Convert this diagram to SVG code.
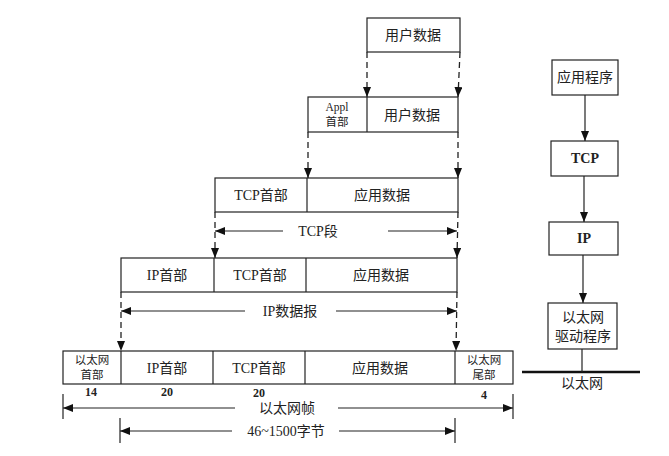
<svg xmlns="http://www.w3.org/2000/svg" width="669" height="456" viewBox="0 0 669 456">
<defs>
<marker id="ah" viewBox="0 0 10 8" refX="10" refY="4" markerWidth="10" markerHeight="8" markerUnits="userSpaceOnUse" orient="auto">
<path d="M0,0 L10,4 L0,8 Z" fill="#111"/>
</marker>
<style>
.b{fill:#fff;stroke:#222;stroke-width:1.2}
.d{stroke:#222;stroke-width:1.3;stroke-dasharray:6,4;fill:none}
.l{stroke:#222;stroke-width:1.2;fill:none}
.t{font-family:"Liberation Serif","Noto Sans CJK SC",serif;font-size:14px;fill:#222;text-anchor:middle}
.s{font-family:"Liberation Serif","Noto Sans CJK SC",serif;font-size:11.5px;fill:#222;text-anchor:middle}
.n{font-family:"Liberation Serif",serif;font-size:12px;font-weight:bold;fill:#222;text-anchor:middle}
.bt{font-family:"Liberation Serif",serif;font-size:14px;font-weight:bold;fill:#222;text-anchor:middle}
</style>
</defs>
<rect width="669" height="456" fill="#fff"/>

<g id="row1">
<rect class="b" x="367" y="18" width="93" height="34"/>
<text class="t" x="413" y="40">用户数据</text>
</g>

<g id="row2">
<rect class="b" x="308" y="97" width="150" height="35"/>
<line class="l" x1="367" y1="97" x2="367" y2="132"/>
<text class="s" x="337" y="111">Appl</text>
<text class="s" x="337" y="126">首部</text>
<text class="t" x="412" y="120">用户数据</text>
</g>

<g id="row3">
<rect class="b" x="215" y="178" width="243" height="34"/>
<line class="l" x1="307" y1="178" x2="307" y2="212"/>
<text class="t" x="261" y="200">TCP首部</text>
<text class="t" x="382" y="200">应用数据</text>
</g>

<g id="row4">
<rect class="b" x="121" y="258" width="336" height="34"/>
<line class="l" x1="214" y1="258" x2="214" y2="292"/>
<line class="l" x1="306" y1="258" x2="306" y2="292"/>
<text class="t" x="167" y="280">IP首部</text>
<text class="t" x="260" y="280">TCP首部</text>
<text class="t" x="381" y="280">应用数据</text>
</g>

<g id="row5">
<rect class="b" x="63" y="351" width="450" height="33"/>
<line class="l" x1="121" y1="351" x2="121" y2="384"/>
<line class="l" x1="213" y1="351" x2="213" y2="384"/>
<line class="l" x1="305" y1="351" x2="305" y2="384"/>
<line class="l" x1="455" y1="351" x2="455" y2="384"/>
<text class="s" x="92" y="364">以太网</text>
<text class="s" x="92" y="379">首部</text>
<text class="t" x="167" y="373">IP首部</text>
<text class="t" x="259" y="373">TCP首部</text>
<text class="t" x="380" y="373">应用数据</text>
<text class="s" x="484" y="364">以太网</text>
<text class="s" x="484" y="379">尾部</text>
<text class="n" x="91" y="396">14</text>
<text class="n" x="167" y="396">20</text>
<text class="n" x="259" y="397">20</text>
<text class="n" x="484" y="399">4</text>
</g>

<g id="app">
<rect class="b" x="552" y="60" width="66" height="35"/>
<text class="t" x="585" y="82">应用程序</text>
</g>
<g id="tcp">
<rect class="b" x="551" y="141" width="67" height="35"/>
<text class="bt" x="585" y="163">TCP</text>
</g>
<g id="ip">
<rect class="b" x="549" y="222" width="69" height="33"/>
<text class="bt" x="584" y="243">IP</text>
</g>
<g id="driver">
<rect class="b" x="548" y="303" width="69" height="46"/>
<text class="t" x="583" y="322">以太网</text>
<text class="t" x="583" y="341">驱动程序</text>
</g>
<g id="ethernet">
<line x1="522" y1="372" x2="640" y2="372" stroke="#111" stroke-width="2.5"/>
<text class="t" x="582" y="388">以太网</text>
</g>

<g id="connectors">
<line class="d" x1="367" y1="52" x2="367" y2="97" marker-end="url(#ah)"/>
<line class="d" x1="460" y1="52" x2="458" y2="97" marker-end="url(#ah)"/>
<line class="d" x1="308" y1="132" x2="308" y2="178" marker-end="url(#ah)"/>
<line class="d" x1="458" y1="132" x2="458" y2="178" marker-end="url(#ah)"/>
<line class="d" x1="215" y1="212" x2="215" y2="258" marker-end="url(#ah)"/>
<line class="d" x1="458" y1="212" x2="457" y2="258" marker-end="url(#ah)"/>
<line class="d" x1="121" y1="292" x2="121" y2="351" marker-end="url(#ah)"/>
<line class="d" x1="457" y1="292" x2="456" y2="351" marker-end="url(#ah)"/>

<line class="l" x1="283" y1="231" x2="215" y2="231" marker-end="url(#ah)"/>
<line class="l" x1="388" y1="231" x2="457" y2="231" marker-end="url(#ah)"/>
<text class="t" x="318" y="236">TCP段</text>

<line class="l" x1="245" y1="311" x2="121" y2="311" marker-end="url(#ah)"/>
<line class="l" x1="336" y1="311" x2="457" y2="311" marker-end="url(#ah)"/>
<text class="t" x="290" y="316">IP数据报</text>

<line class="l" x1="63" y1="394" x2="63" y2="419"/>
<line class="l" x1="513" y1="394" x2="513" y2="419"/>
<line class="l" x1="235" y1="408" x2="63" y2="408" marker-end="url(#ah)"/>
<line class="l" x1="338" y1="408" x2="513" y2="408" marker-end="url(#ah)"/>
<text class="t" x="287" y="413">以太网帧</text>

<line class="l" x1="120" y1="418" x2="120" y2="443"/>
<line class="l" x1="455" y1="418" x2="455" y2="443"/>
<line class="l" x1="232" y1="431" x2="120" y2="431" marker-end="url(#ah)"/>
<line class="l" x1="339" y1="431" x2="455" y2="431" marker-end="url(#ah)"/>
<text class="t" x="286" y="436">46~1500字节</text>

<line class="l" x1="585" y1="95" x2="585" y2="141" marker-end="url(#ah)"/>
<line class="l" x1="584" y1="176" x2="584" y2="222" marker-end="url(#ah)"/>
<line class="l" x1="583" y1="255" x2="583" y2="303" marker-end="url(#ah)"/>
<line class="l" x1="582" y1="349" x2="582" y2="372"/>
</g>
</svg>
